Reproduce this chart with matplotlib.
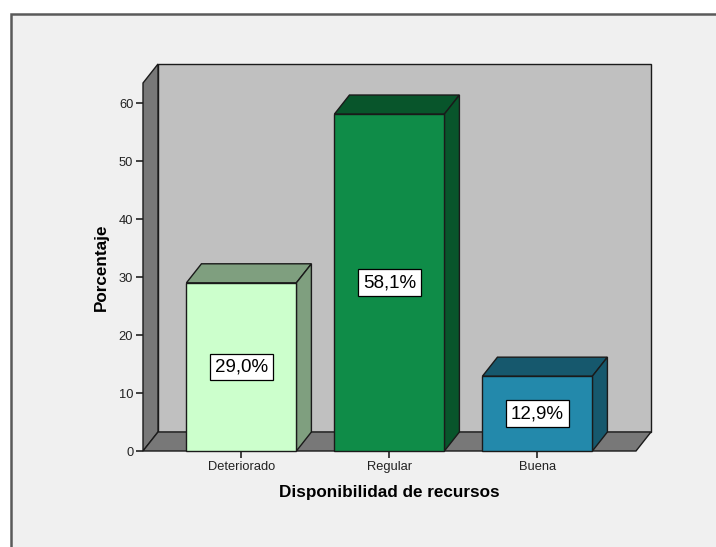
import matplotlib
matplotlib.use("Agg")
import matplotlib.pyplot as plt
from matplotlib.patches import Rectangle, Polygon

plt.rcParams['font.family'] = ['Liberation Sans', 'DejaVu Sans']

# --------------------------- DATA ------------------------------#

categories = ["Deteriorado", "Regular", "Buena"]
percentages = [29.0, 58.1, 12.9]
value_labels = ["29,0%", "58,1%", "12,9%"]
y_ticks = [0, 10, 20, 30, 40, 50, 60]

front_colors = ["#ccffcc", "#0f8c48", "#2389ab"]
shade_colors = ["#7f9f7f", "#08552b", "#16586d"]

# --------------------------- LAYOUT ------------------------------#

DX = 0.1014   # depth offset in x data units
DY = 3.28     # depth offset in y data units
X0, X1 = -0.665, 2.666
Y_TOP = 63.45
BAR_W = 0.743
EDGE = "#1a1a1a"

fig = plt.figure(figsize=(7.16, 5.47), dpi=100)
fig.patch.set_facecolor("white")

# outer frame (SPSS viewer look), kept behind the axes
fig.patches.append(Rectangle((11 / 716, -0.1), 1.2, 1 - 14 / 547 + 0.1,
                             transform=fig.transFigure, facecolor="#f0f0f0",
                             edgecolor="#5a5a5a", linewidth=1.8, zorder=-5))

ax = fig.add_axes([143 / 716, 96 / 547, 508 / 716, 387 / 547])
ax.set_facecolor("none")
ax.set_xlim(X0, X1 + DX)
ax.set_ylim(0, Y_TOP + DY)
for s in ax.spines.values():
    s.set_visible(False)

# back wall
ax.add_patch(Rectangle((X0 + DX, DY), X1 - X0, Y_TOP, facecolor="#c0c0c0",
                       edgecolor=EDGE, linewidth=1, zorder=1, clip_on=False))
# left wall
ax.add_patch(Polygon([(X0, 0), (X0 + DX, DY), (X0 + DX, Y_TOP + DY), (X0, Y_TOP)],
                     closed=True, facecolor="#787878", edgecolor=EDGE, linewidth=1,
                     zorder=2, clip_on=False))
# floor
ax.add_patch(Polygon([(X0, 0), (X1, 0), (X1 + DX, DY), (X0 + DX, DY)],
                     closed=True, facecolor="#787878", edgecolor=EDGE, linewidth=1,
                     zorder=2, clip_on=False))

# bars
for i, (v, fc, sc, lab) in enumerate(zip(percentages, front_colors, shade_colors, value_labels)):
    l, r = i - BAR_W / 2, i + BAR_W / 2
    ax.add_patch(Polygon([(l, v), (r, v), (r + DX, v + DY), (l + DX, v + DY)],
                         closed=True, facecolor=sc, edgecolor=EDGE, linewidth=1, zorder=3))
    ax.add_patch(Polygon([(r, 0), (r + DX, DY), (r + DX, v + DY), (r, v)],
                         closed=True, facecolor=sc, edgecolor=EDGE, linewidth=1, zorder=3))
    ax.add_patch(Rectangle((l, 0), BAR_W, v, facecolor=fc, edgecolor=EDGE,
                           linewidth=1, zorder=4, clip_on=False))
    ax.text(i, v / 2, lab, ha="center", va="center", fontsize=13.5, color="black", zorder=5,
            bbox=dict(boxstyle="square,pad=0.25", facecolor="white", edgecolor="black",
                      linewidth=0.9))

ax.set_xticks(range(len(categories)))
ax.set_xticklabels(categories)
ax.set_yticks(y_ticks)
ax.tick_params(axis="both", direction="out", length=5, width=1.2, color="#222222",
               labelsize=9.3, labelcolor="#222222", pad=2)

ax.set_xlabel("Disponibilidad de recursos", fontsize=12.3, fontweight="bold")
ax.xaxis.set_label_coords(0.484, -0.088)
ax.set_ylabel("Porcentaje", fontsize=12.3, fontweight="bold")
ax.yaxis.set_label_coords(-0.067, 0.474)

fig.savefig("out.png", dpi=100)
